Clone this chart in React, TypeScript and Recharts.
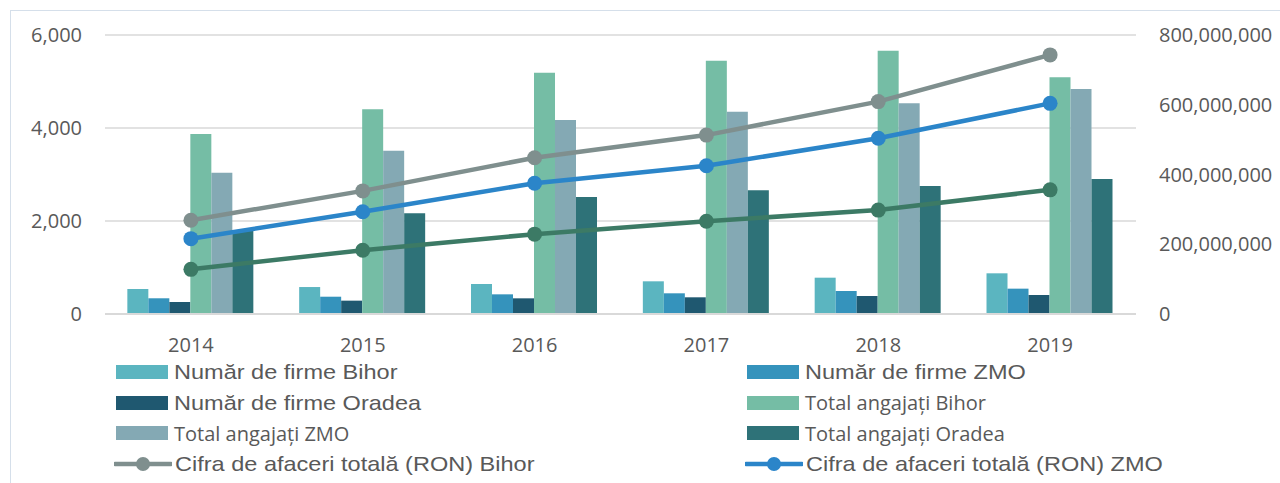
import { Bar, CartesianGrid, ComposedChart, Line, XAxis, YAxis } from "recharts";

const years = ["2014", "2015", "2016", "2017", "2018", "2019"];
const firmeBihor = [538, 580, 645, 703, 781, 875];
const firmeZmo = [338, 372, 423, 445, 495, 545];
const firmeOradea = [258, 287, 337, 359, 387, 409];
const angajatiBihor = [3871, 4402, 5190, 5448, 5663, 5090];
const angajatiZmo = [3039, 3512, 4172, 4351, 4531, 4839];
const angajatiOradea = [1800, 2165, 2516, 2660, 2753, 2903];
const cifraBihor = [269e6, 353e6, 448e6, 513e6, 609e6, 743e6];
const cifraZmo = [216e6, 293e6, 375e6, 425e6, 504e6, 604e6];
const cifraOradea = [128e6, 183e6, 229e6, 266e6, 298e6, 356e6];
const leftTicks = [0, 2000, 4000, 6000];
const rightTicks = [0, 200e6, 400e6, 600e6, 800e6];

const data = years.map((year, i) => ({
  year,
  firmeBihor: firmeBihor[i],
  firmeZmo: firmeZmo[i],
  firmeOradea: firmeOradea[i],
  angajatiBihor: angajatiBihor[i],
  angajatiZmo: angajatiZmo[i],
  angajatiOradea: angajatiOradea[i],
  cifraBihor: cifraBihor[i],
  cifraZmo: cifraZmo[i],
  cifraOradea: cifraOradea[i]
}));

const bars = [
  { key: "firmeBihor", name: "Număr de firme Bihor", color: "#5BB5C0", font: "arial" },
  { key: "firmeZmo", name: "Număr de firme ZMO", color: "#3593BC", font: "arial" },
  { key: "firmeOradea", name: "Număr de firme Oradea", color: "#1F5870", font: "arial" },
  { key: "angajatiBihor", name: "Total angajați Bihor", color: "#75BDA5", font: "open" },
  { key: "angajatiZmo", name: "Total angajați ZMO", color: "#84A9B4", font: "open" },
  { key: "angajatiOradea", name: "Total angajați Oradea", color: "#2E7278", font: "open" }
];

const lines = [
  { key: "cifraBihor", name: "Cifra de afaceri totală (RON) Bihor", color: "#7F8F8E" },
  { key: "cifraZmo", name: "Cifra de afaceri totală (RON) ZMO", color: "#2B85C9" },
  { key: "cifraOradea", name: "Cifra de afaceri totală (RON) Oradea", color: "#3C7A65" }
];

const tick = { fontFamily: "Open Sans", fontSize: 20, fill: "#595959" };
const fmt = (v: number) => v.toLocaleString("en-US");

function LegendItem({ item, isLine, index }: { item: any; isLine: boolean; index: number }) {
  const row = Math.floor(index / 2);
  const col = index % 2;
  const textStyle: any =
    isLine || item.font === "arial"
      ? { fontFamily: "Liberation Sans", fontSize: 21, transform: "scaleX(1.12)", transformOrigin: "left center" }
      : { fontFamily: "Open Sans", fontSize: 20 };
  return (
    <div
      style={{
        position: "absolute",
        left: col === 0 ? 114 : 745,
        top: 358 + row * 30.5,
        height: 28,
        display: "flex",
        alignItems: "center",
        whiteSpace: "nowrap",
        color: "#595959"
      }}
    >
      {isLine ? (
        <svg width={58} height={16} style={{ marginRight: 3 }}>
          <line x1={1} y1={8} x2={57} y2={8} stroke={item.color} strokeWidth={4.5} strokeLinecap="round" />
          <circle cx={29} cy={8} r={7} fill={item.color} />
        </svg>
      ) : (
        <div style={{ width: 52, height: 14, background: item.color, marginLeft: 2, marginRight: 6 }} />
      )}
      <span style={textStyle}>{item.name}</span>
    </div>
  );
}

export default function App() {
  const legendItems = [...bars.map((b) => ({ item: b, isLine: false })), ...lines.slice(0, 2).map((l) => ({ item: l, isLine: true }))];
  return (
    <div style={{ position: "absolute", left: 0, top: 0, width: 1280, height: 483, background: "#fff", overflow: "hidden" }}>
      <div
        style={{
          position: "absolute",
          left: 10,
          top: 10,
          width: 1270,
          height: 473,
          boxSizing: "border-box",
          borderLeft: "1px solid #D5DFEA",
          borderTop: "1px solid #D5DFEA"
        }}
      />
      <div style={{ position: "absolute", left: 0, top: 0 }}>
        <ComposedChart
          width={1280}
          height={483}
          data={data}
          margin={{ top: 35, right: 0, bottom: 0, left: 0 }}
          barCategoryGap="13%"
          barGap={0}
        >
          <CartesianGrid yAxisId="left" stroke="#D9D9D9" strokeWidth={1.5} vertical={false} />
          <XAxis
            dataKey="year"
            height={169}
            tick={tick}
            tickLine={false}
            tickSize={0}
            tickMargin={24}
            axisLine={{ stroke: "#D9D9D9", strokeWidth: 2 }}
          />
          <YAxis
            yAxisId="left"
            orientation="left"
            width={105}
            domain={[0, 6000]}
            ticks={leftTicks}
            tickFormatter={fmt}
            tick={tick}
            tickLine={false}
            tickSize={0}
            tickMargin={23}
            axisLine={false}
          />
          <YAxis
            yAxisId="right"
            orientation="right"
            width={144}
            domain={[0, 800e6]}
            ticks={rightTicks}
            tickFormatter={fmt}
            tick={{ ...tick, textAnchor: "start" }}
            tickLine={false}
            tickSize={0}
            tickMargin={23}
            axisLine={false}
          />
          {bars.map((b) => (
            <Bar key={b.key} yAxisId="left" dataKey={b.key} name={b.name} fill={b.color} isAnimationActive={false} />
          ))}
          {lines.map((l) => (
            <Line
              key={l.key}
              yAxisId="right"
              dataKey={l.key}
              name={l.name}
              stroke={l.color}
              strokeWidth={4.5}
              dot={{ r: 7.5, fill: l.color, stroke: l.color, strokeWidth: 0 }}
              isAnimationActive={false}
            />
          ))}
        </ComposedChart>
      </div>
      {legendItems.map((li, i) => (
        <LegendItem key={i} item={li.item} isLine={li.isLine} index={i} />
      ))}
    </div>
  );
}
